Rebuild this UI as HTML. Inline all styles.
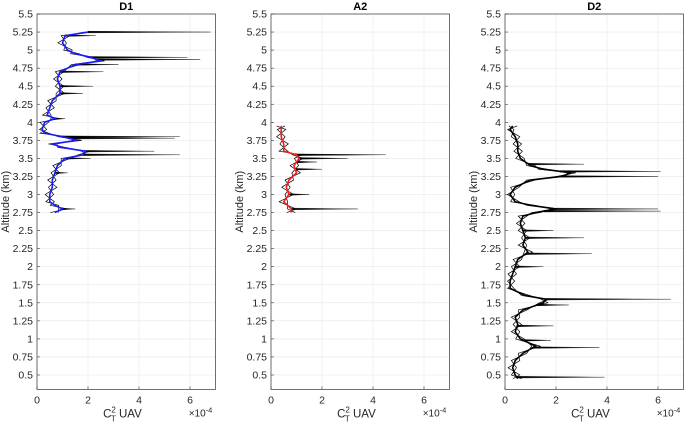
<!DOCTYPE html>
<html><head><meta charset="utf-8">
<style>
html,body{margin:0;padding:0;background:#fff;width:685px;height:427px;overflow:hidden}
svg{display:block;font-family:"Liberation Sans",Arial,sans-serif}
</style></head>
<body>
<svg id="fig" width="685" height="427" viewBox="0 0 685 427"></svg>
<script>
const panelTitles=["D1","A2","D2"];
const yTicks=[0.5,0.75,1,1.25,1.5,1.75,2,2.25,2.5,2.75,3,3.25,3.5,3.75,4,4.25,4.5,4.75,5,5.25,5.5];
const yTickLabels=["0.5","0.75","1","1.25","1.5","1.75","2","2.25","2.5","2.75","3","3.25","3.5","3.75","4","4.25","4.5","4.75","5","5.25","5.5"];
const xTicks=[0,2,4,6];
const xTickLabels=["0","2","4","6"];
// mean profiles: altitude (km) and Ct2 (x1e-4)
const d1Alt=[2.75,2.8,2.85,2.9,3.0,3.1,3.2,3.3,3.4,3.5,3.55,3.6,3.65,3.7,3.75,3.8,3.85,3.9,4.0,4.05,4.1,4.2,4.3,4.4,4.5,4.6,4.7,4.8,4.85,4.9,4.95,5.0,5.1,5.2,5.25];
const d1Mean=[0.7,1.0,0.7,0.5,0.5,0.6,0.6,0.7,0.8,1.1,1.8,1.9,1.0,0.6,1.6,1.0,0.3,0.2,0.3,0.7,0.4,0.5,0.6,0.9,0.9,0.8,0.9,1.5,2.5,2.1,1.5,1.2,1.0,1.1,2.0];
const d1SpikeAlt=[5.25,5.2,4.9,4.87,4.8,4.7,4.5,4.4,4.05,3.8,3.78,3.6,3.55,3.5,3.3,2.8];
const d1SpikeVal=[6.8,2.3,5.9,6.4,3.2,2.6,2.2,1.8,1.1,5.6,5.4,4.6,5.6,2.1,1.2,1.5];
const a2Alt=[2.75,2.8,2.9,3.0,3.1,3.2,3.3,3.4,3.5,3.55,3.6,3.7,3.8,3.9,3.95];
const a2Mean=[0.8,0.8,0.5,0.7,0.6,0.7,1.0,0.9,1.1,1.0,0.5,0.5,0.4,0.4,0.4];
const a2SpikeAlt=[2.8,3.0,3.35,3.45,3.5,3.55];
const a2SpikeVal=[3.4,1.5,2.0,1.8,3.0,4.5];
const d2Alt=[0.45,0.5,0.6,0.7,0.8,0.9,1.0,1.1,1.2,1.3,1.4,1.5,1.55,1.6,1.7,1.8,1.9,2.0,2.1,2.2,2.3,2.4,2.5,2.6,2.7,2.75,2.8,2.85,2.9,3.0,3.1,3.2,3.25,3.3,3.35,3.4,3.5,3.6,3.7,3.8,3.9,3.95];
const d2Mean=[0.5,0.4,0.3,0.4,0.7,1.2,0.6,0.4,0.5,0.4,0.7,1.5,1.6,0.8,0.2,0.2,0.3,0.4,0.5,0.9,0.7,0.8,0.7,0.6,0.7,1.2,2.0,1.0,0.4,0.2,0.4,1.0,2.2,2.6,1.5,1.0,0.6,0.5,0.5,0.4,0.2,0.3];
const d2SpikeAlt=[0.47,0.88,0.98,1.18,1.47,1.55,2.0,2.18,2.4,2.5,2.77,2.8,3.25,3.32,3.42];
const d2SpikeVal=[3.9,3.7,1.8,1.9,2.5,6.5,1.5,3.4,3.1,1.9,6.1,6.0,6.0,6.1,3.1];

const NS="http://www.w3.org/2000/svg";
const svg=document.getElementById('fig');
function mk(tag,attrs,parent){const e=document.createElementNS(NS,tag);for(const k in attrs)e.setAttribute(k,attrs[k]);(parent||svg).appendChild(e);return e;}
const panelX=[37,271,505];
const pxPerX=25.5;
const yTop=14, yBot=389.4;
function yS(a){return yTop+(5.5-a)*72.2;}
const panels=[
 {alt:d1Alt,mean:d1Mean,sa:d1SpikeAlt,sv:d1SpikeVal,col:"#1a1aff"},
 {alt:a2Alt,mean:a2Mean,sa:a2SpikeAlt,sv:a2SpikeVal,col:"#ff1a1a"},
 {alt:d2Alt,mean:d2Mean,sa:d2SpikeAlt,sv:d2SpikeVal,col:"#000"}
];
panels.forEach((p,i)=>{
 const x0=panelX[i];
 const xS=v=>x0+v*pxPerX;
 const right=xS(7);
 const g=mk('g',{});
 
 
 mk('rect',{x:x0,y:yTop,width:right-x0,height:yBot-yTop,fill:'#fff'},g);
 yTicks.forEach((t,k)=>{
  const y=yS(t);
  const gl=mk('line',{x1:x0,x2:right,y1:y,y2:y,stroke:'#e6e6e6','stroke-width':0.6},g);
  
  
  mk('line',{x1:x0,x2:x0+3,y1:y,y2:y,stroke:'#333','stroke-width':0.6},g);
  const tx=mk('text',{x:x0-4,y:y+3.5,'text-anchor':'end','font-size':10.5,fill:'#262626'},g);
  tx.textContent=yTickLabels[k];
  
  
 });
 xTicks.forEach((t,k)=>{
  const x=xS(t);
  const gl=mk('line',{x1:x,x2:x,y1:yTop,y2:yBot,stroke:'#e6e6e6','stroke-width':0.6},g);
  
  
  mk('line',{x1:x,x2:x,y1:yBot,y2:yBot-3,stroke:'#333','stroke-width':0.6},g);
  const tx=mk('text',{x:x,y:yBot+14,'text-anchor':'middle','font-size':10.5,fill:'#262626'},g);
  tx.textContent=xTickLabels[k];
  
  
 });
 [-0.15,0.18,0].forEach(off=>{
  const pts=p.alt.map((a,k)=>xS(Math.max(0.1,p.mean[k]+off*(k%2?1:-1)))+','+yS(a)).join(' ');
  const pl=mk('polyline',{points:pts,fill:'none',stroke:'#000','stroke-width':0.7},g);
  
  
 });
 p.sa.forEach((a,k)=>{
  let base=p.mean[0];
  for(let j=0;j<p.alt.length-1;j++){if(a>=p.alt[j]&&a<=p.alt[j+1]){const f=(a-p.alt[j])/(p.alt[j+1]-p.alt[j]);base=p.mean[j]+f*(p.mean[j+1]-p.mean[j]);}}
  const sp=mk('polygon',{points:xS(base)+','+yS(a+0.012)+' '+xS(p.sv[k])+','+yS(a)+' '+xS(base)+','+yS(a-0.012),fill:'#000',stroke:'#000','stroke-width':0.3},g);
  
  
 });
 const mp=mk('polyline',{points:p.alt.map((a,k)=>xS(p.mean[k])+','+yS(a)).join(' '),fill:'none',stroke:p.col,'stroke-width':1.6},g);
 
 
 const box=mk('rect',{x:x0,y:yTop,width:right-x0,height:yBot-yTop,fill:'none',stroke:'#333','stroke-width':0.7},g);
 
 
 const tt=mk('text',{x:(x0+right)/2,y:10,'text-anchor':'middle','font-size':11,'font-weight':'bold',fill:'#000'},g);
 tt.textContent=panelTitles[i];
 
 
 const yl=mk('text',{x:0,y:0,transform:'translate('+(x0-28)+','+yS(2.9)+') rotate(-90)','text-anchor':'middle','font-size':11,fill:'#262626'},g);
 yl.textContent='Altitude (km)';
 
 
 const xl=mk('text',{x:xS(3.35),y:yBot+28,'text-anchor':'middle','font-size':11.5,fill:'#262626'},g);
 
 
 xl.innerHTML='C<tspan font-size="8" dy="-5">2</tspan><tspan font-size="8" dx="-5" dy="9">T</tspan><tspan dy="-4"> UAV</tspan>';
 const ex=mk('text',{x:xS(5.95),y:yBot+27,'text-anchor':'start','font-size':10,fill:'#262626'},g);
 ex.innerHTML='×10<tspan font-size="7.5" dy="-4">-4</tspan>';
 
 
});
</script>
</body></html>
